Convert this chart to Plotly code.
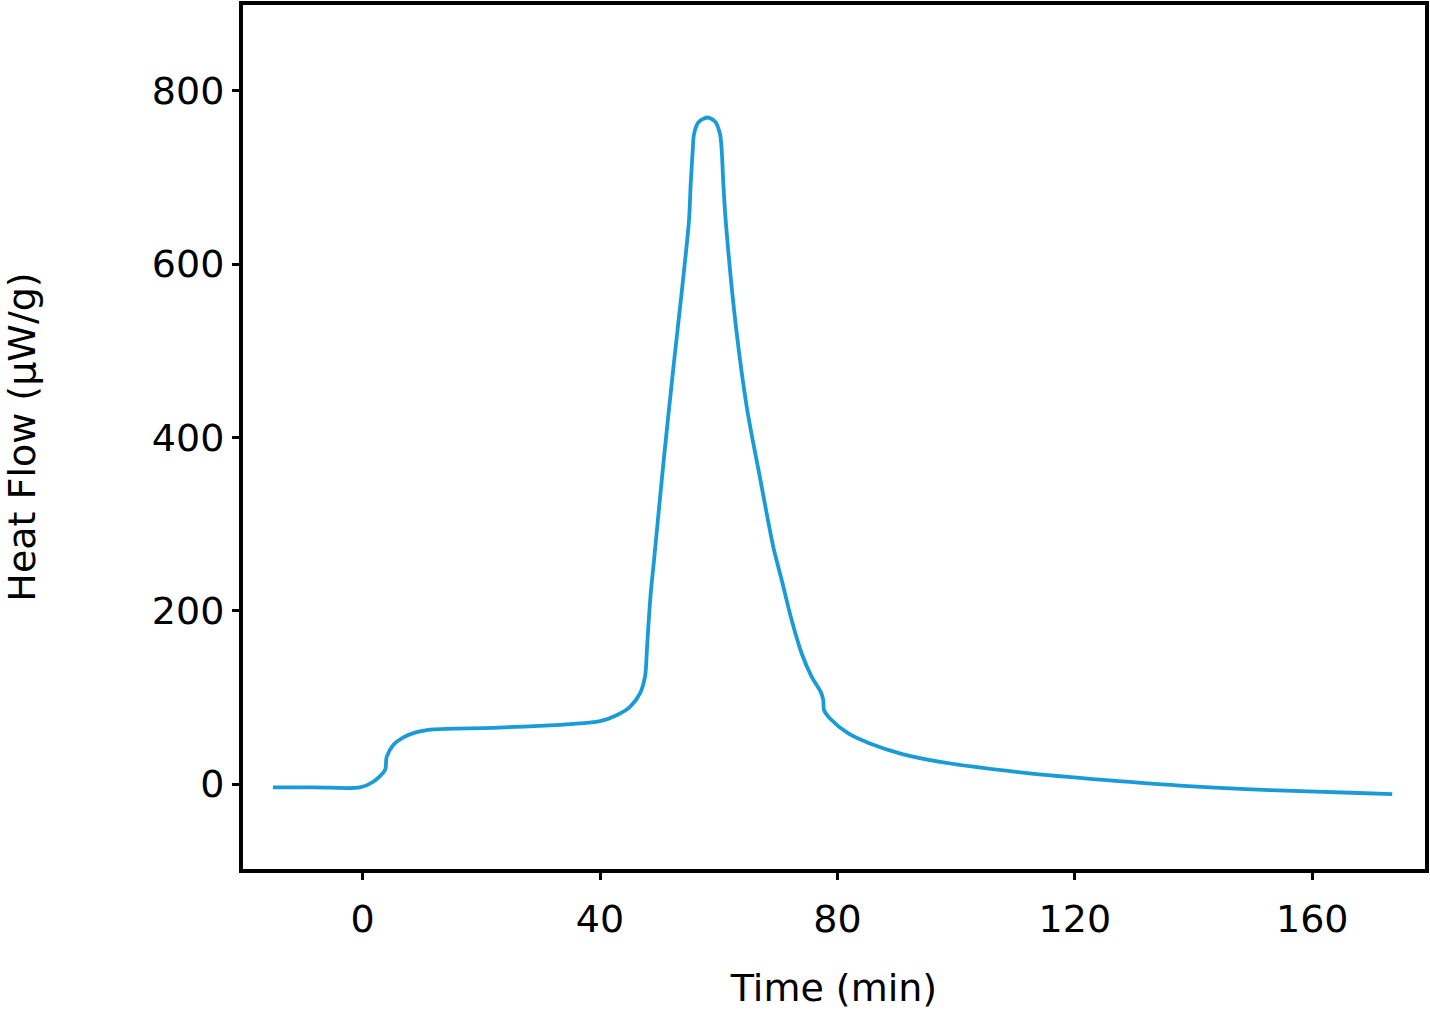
import plotly.graph_objects as go

# Time (min) and heat flow (µW/g)
time_min = [-15.1, -8.0, -0.44, 1.80, 3.77, 4.06, 5.17, 6.86, 9.12, 11.91, 22.0, 33.3, 36.63,
            40.0, 42.81, 45.05, 46.74, 47.58, 47.75, 47.87, 48.14, 48.54, 49.10, 50.67,
            52.35, 53.77, 54.99, 55.28, 55.62, 55.84, 56.56, 58.08, 59.38, 60.22, 60.51,
            60.78, 61.18, 62.9, 64.8, 67.0, 68.09, 69.20, 70.62, 72.30, 73.98, 75.67,
            77.19, 77.62, 77.74, 78.75, 81.84, 85.46, 90.95, 97.84, 111.59, 125.34,
            139.11, 152.86, 166.60, 173.48]
heat_flow = [-3.8, -3.8, -3.8, 2.65, 16.1, 31.5, 45.0, 53.8, 59.9, 63.1, 64.9, 68.4, 70.0,
             72.6, 79.5, 89.1, 104.6, 123.7, 135.2, 150.7, 181.3, 219.8, 258.2, 369.3,
             479.7, 567.8, 650.1, 692.4, 730.8, 750.1, 763.5, 769.2, 764.6, 750.1, 730.8,
             692.4, 650.1, 528.0, 432.0, 352.0, 312.0, 273.5, 235.2, 189.0, 150.7, 123.7,
             106.4, 96.8, 85.3, 75.7, 58.4, 46.9, 34.6, 25.0, 13.0, 4.6,
             -2.3, -6.9, -10.0, -11.5]

x_ticks = [0, 40, 80, 120, 160]
y_ticks = [0, 200, 400, 600, 800]

FONT = "DejaVu Sans"

fig = go.Figure()
fig.add_trace(go.Scatter(
    x=time_min, y=heat_flow, mode="lines",
    line=dict(color="#1a9bd7", width=3.8, shape="spline", smoothing=0.8),
    showlegend=False, hoverinfo="skip",
))

axis_common = dict(
    showline=True, linecolor="black", linewidth=4, mirror=True,
    ticks="outside", ticklen=7, tickwidth=3, tickcolor="black",
    showgrid=False, zeroline=False, automargin=False,
    tickfont=dict(family=FONT, size=38, color="black"),
)

fig.update_layout(
    width=1430, height=1016,
    margin=dict(l=243, r=5, t=5, b=147),
    paper_bgcolor="white", plot_bgcolor="white",
    font=dict(family=FONT, color="black"),
    xaxis=dict(range=[-20.15, 179.0], tickvals=x_ticks, ticklabelstandoff=6,
               title=dict(text="Time (min)", font=dict(family=FONT, size=38, color="black"), standoff=36),
               **axis_common),
    yaxis=dict(range=[-98, 899], tickvals=y_ticks,
               title=dict(text="Heat Flow (μW/g)", font=dict(family=FONT, size=38, color="black"), standoff=116),
               **axis_common),
)

fig.write_html(
    "out.html",
    config={"displayModeBar": False},
    post_script="document.body.style.margin='0';document.body.style.overflow='hidden';",
)
